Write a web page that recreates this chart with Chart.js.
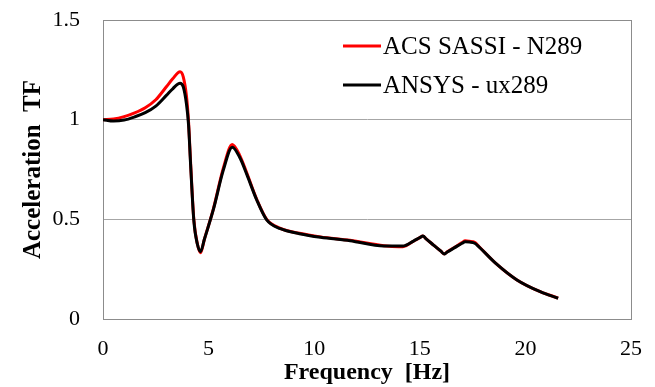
<!DOCTYPE html>
<html><head><meta charset="utf-8">
<script src="https://cdn.jsdelivr.net/npm/chart.js@4/dist/chart.umd.min.js"></script>
<style>html,body{margin:0;padding:0;background:#fff}#wrap{width:655px;height:387px}</style>
</head><body><div id="wrap"><canvas id="c" width="655" height="387"></canvas></div>
<script>
const freq = [0, 0.5, 1.0, 1.5, 2.0, 2.5, 3.0, 3.3, 3.65, 3.8, 3.95, 4.05, 4.15, 4.3, 4.47, 4.62, 4.8, 5.22, 5.7, 6.12, 6.5, 6.8, 7.28, 7.75, 8.4, 9.3, 10.3, 11.7,
              13.3, 14.0, 14.2, 14.7, 15.0, 15.15, 15.3, 15.65, 16.0, 16.15, 16.3, 16.65, 17.0, 17.15, 17.35, 17.6, 17.8, 18.6, 19.6, 20.7, 21.55];
const acsSassi = [1.000, 1.003, 1.015, 1.034, 1.060, 1.100, 1.165, 1.205, 1.240, 1.215, 1.120, 0.990, 0.780, 0.500, 0.376, 0.332, 0.400, 0.550, 0.758, 0.876, 0.815, 0.735, 0.600, 0.500, 0.455, 0.430, 0.412, 0.395,
                  0.368, 0.363, 0.363, 0.390, 0.408, 0.416, 0.402, 0.371, 0.340, 0.326, 0.337, 0.360, 0.383, 0.392, 0.390, 0.385, 0.364, 0.279, 0.196, 0.137, 0.105];
const ansys = [1.000, 0.993, 0.998, 1.014, 1.035, 1.068, 1.122, 1.155, 1.183, 1.165, 1.080, 0.975, 0.770, 0.495, 0.375, 0.338, 0.400, 0.547, 0.748, 0.862, 0.805, 0.728, 0.597, 0.497, 0.453, 0.428, 0.410, 0.393,
               0.366, 0.366, 0.366, 0.391, 0.408, 0.416, 0.402, 0.371, 0.340, 0.326, 0.336, 0.358, 0.380, 0.388, 0.386, 0.380, 0.362, 0.279, 0.196, 0.137, 0.104];
const seriesLabels = ['ACS SASSI - N289', 'ANSYS - ux289'];
const xTicks = [0, 5, 10, 15, 20, 25];
const yTicks = [0, 0.5, 1, 1.5];

const serif = '"Liberation Serif", "Times New Roman", serif';

const borderPlugin = {
  id: 'plotBorder',
  beforeDatasetsDraw(chart) {
    const {ctx, chartArea: a} = chart;
    ctx.save();
    ctx.strokeStyle = '#8c8c8c';
    ctx.lineWidth = 1;
    ctx.strokeRect(Math.round(a.left) + 0.5, Math.round(a.top) + 0.5, Math.round(a.right - a.left), Math.round(a.bottom - a.top));
    ctx.restore();
  }
};

const legendPlugin = {
  id: 'insideLegend',
  afterDraw(chart) {
    const {ctx} = chart;
    const rows = [46, 85];
    ctx.save();
    ctx.font = '25px ' + serif;
    ctx.textBaseline = 'middle';
    ctx.textAlign = 'left';
    chart.data.datasets.forEach((ds, i) => {
      const y = rows[i];
      ctx.strokeStyle = ds.borderColor;
      ctx.lineWidth = 3;
      ctx.beginPath();
      ctx.moveTo(343, y);
      ctx.lineTo(381, y);
      ctx.stroke();
      ctx.fillStyle = '#000';
      ctx.fillText(ds.label, 383, y + 1);
    });
    ctx.restore();
  }
};

new Chart(document.getElementById('c'), {
  type: 'line',
  data: {
    datasets: [
      {label: seriesLabels[0], order: 1, data: freq.map((f, i) => ({x: f, y: acsSassi[i]})), borderColor: '#ff0000', backgroundColor: '#ff0000', borderWidth: 3, pointRadius: 0, cubicInterpolationMode: 'monotone', fill: false},
      {label: seriesLabels[1], order: 0, data: freq.map((f, i) => ({x: f, y: ansys[i]})), borderColor: '#000000', backgroundColor: '#000000', borderWidth: 3, pointRadius: 0, cubicInterpolationMode: 'monotone', fill: false}
    ]
  },
  options: {
    responsive: false,
    animation: false,
    devicePixelRatio: 1,
    layout: {padding: {top: 20, right: 24, left: 0, bottom: 0}},
    plugins: {legend: {display: false}, tooltip: {enabled: false}},
    scales: {
      x: {
        type: 'linear', min: 0, max: 25,
        afterFit(s) { s.height = 68; s.paddingLeft = 0; s.paddingRight = 0; },
        afterBuildTicks(s) { s.ticks = xTicks.map(v => ({value: v})); },
        ticks: {padding: 17, color: '#000', maxRotation: 0, font: {family: serif, size: 22}, callback: v => String(v)},
        grid: {display: false, drawTicks: false},
        border: {display: true, color: '#8c8c8c', width: 1},
        title: {display: true, text: 'Frequency  [Hz]', color: '#000', font: {family: serif, size: 24, weight: 'bold'}, padding: {top: 0, bottom: 0}}
      },
      y: {
        min: 0, max: 1.5,
        afterFit(s) { s.width = 103; s.paddingTop = 0; s.paddingBottom = 0; },
        afterBuildTicks(s) { s.ticks = yTicks.map(v => ({value: v})); },
        ticks: {padding: 23, color: '#000', font: {family: serif, size: 22}, callback: v => String(v)},
        grid: {color: '#a6a6a6', drawTicks: false, lineWidth: 1},
        border: {display: true, color: '#8c8c8c', width: 1},
        title: {display: true, text: 'Acceleration  TF', color: '#000', font: {family: serif, size: 25, weight: 'bold'}, padding: {top: 19, bottom: 0}}
      }
    }
  },
  plugins: [borderPlugin, legendPlugin]
});
</script></body></html>
